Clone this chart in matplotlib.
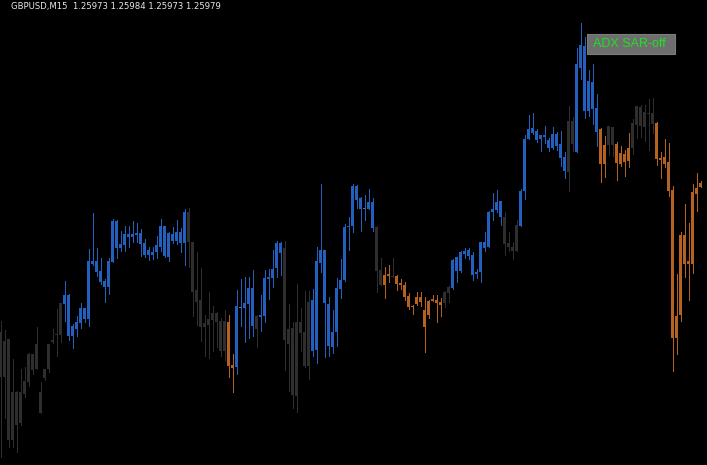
import matplotlib
matplotlib.use("Agg")
import matplotlib.pyplot as plt
from matplotlib.patches import Rectangle
import numpy as np

# ---------------- data (prices in chart points above BASE) ----------------
SYMBOL = "GBPUSD,M15"
LAST_OHLC = ["1.25973", "1.25984", "1.25973", "1.25979"]
INDICATOR_LABEL = "ADX SAR-off"

open_pts = [133, 88, 126, 25, 73, 42, 71, 83, 111, 96, 73, 87, 96, 123, 130, 130,
            161, 170, 129, 136, 142, 157, 146, 204, 204, 194, 184, 178, 203, 244,
            217, 220, 231, 228, 232, 232, 222, 210, 213, 213, 218, 239, 208, 231,
            224, 233, 222, 253, 223, 175, 165, 138, 140, 145, 152, 144, 114, 143,
            100, 98, 158, 157, 161, 177, 136, 148, 149, 186, 187, 197, 222, 217,
            121, 137, 69, 143, 133, 99, 165, 115, 202, 215, 161, 118, 133, 176,
            185, 238, 239, 279, 267, 256, 256, 263, 238, 195, 180, 191, 189, 189,
            182, 180, 169, 158, 161, 168, 155, 150, 164, 165, 163, 162, 172, 177,
            208, 194, 214, 209, 210, 191, 193, 223, 218, 253, 255, 264, 248, 222,
            218, 214, 239, 274, 326, 337, 334, 326, 330, 325, 317, 331, 321, 308,
            293, 344, 313, 397, 419, 354, 383, 357, 336, 301, 320, 338, 321, 301,
            311, 304, 317, 340, 358, 338, 352, 352, 342, 307, 308, 303, 275, 127,
            150, 230, 201, 201, 271, 278]
high_pts = [144, 135, 126, 106, 74, 96, 98, 112, 111, 138, 83, 96, 121, 136, 156, 162,
            184, 171, 141, 149, 162, 157, 216, 252, 217, 207, 186, 207, 246, 245,
            234, 239, 239, 244, 242, 236, 226, 218, 218, 229, 246, 239, 233, 238,
            245, 237, 256, 257, 223, 213, 197, 150, 173, 159, 153, 147, 155, 150,
            111, 175, 186, 188, 188, 195, 150, 170, 195, 196, 215, 224, 223, 224,
            161, 143, 181, 157, 174, 174, 176, 218, 281, 215, 168, 155, 187, 206,
            241, 248, 281, 280, 268, 270, 276, 267, 239, 207, 198, 200, 207, 190,
            186, 183, 172, 160, 173, 173, 168, 165, 170, 170, 167, 174, 179, 206,
            208, 214, 217, 217, 213, 196, 223, 233, 254, 272, 275, 264, 253, 233,
            223, 245, 276, 330, 350, 352, 336, 330, 339, 327, 338, 333, 334, 313,
            359, 348, 417, 442, 428, 395, 401, 371, 337, 329, 339, 338, 323, 319,
            315, 332, 346, 359, 360, 360, 366, 367, 343, 313, 326, 322, 279, 191,
            233, 261, 242, 281, 292, 284]
low_pts = [8, 47, 18, 18, 13, 40, 68, 79, 91, 96, 52, 85, 93, 122, 109, 123,
           144, 125, 117, 129, 137, 143, 139, 200, 189, 181, 163, 171, 203, 207,
           214, 214, 218, 223, 223, 209, 208, 205, 206, 207, 214, 208, 204, 222,
           221, 213, 200, 198, 149, 140, 124, 109, 107, 114, 118, 109, 105, 88,
           73, 91, 139, 123, 127, 129, 118, 134, 143, 166, 178, 188, 190, 95,
           74, 57, 53, 114, 98, 86, 109, 102, 193, 108, 109, 112, 119, 167,
           184, 215, 233, 257, 234, 245, 256, 234, 173, 180, 167, 183, 188, 175,
           176, 165, 156, 151, 160, 159, 113, 147, 164, 143, 149, 158, 163, 176,
           183, 193, 207, 206, 185, 187, 183, 214, 218, 245, 253, 240, 210, 214,
           206, 214, 239, 266, 326, 331, 323, 314, 322, 314, 316, 315, 299, 287,
           274, 314, 313, 386, 347, 349, 341, 319, 283, 288, 310, 309, 285, 299,
           289, 298, 311, 327, 328, 324, 315, 332, 300, 287, 298, 269, 94, 111,
           144, 188, 165, 192, 254, 278]
close_pts = [88, 124, 25, 73, 40, 73, 84, 111, 95, 121, 52, 96, 121, 125, 131, 162,
             170, 129, 139, 143, 157, 146, 204, 201, 193, 183, 178, 204, 244, 217,
             221, 231, 228, 231, 230, 221, 210, 215, 210, 220, 239, 209, 232, 224,
             233, 222, 253, 223, 173, 163, 138, 142, 146, 152, 143, 114, 144, 99,
             97, 159, 157, 162, 177, 139, 149, 150, 187, 188, 196, 222, 212, 125,
             136, 70, 143, 132, 99, 163, 114, 204, 215, 162, 119, 133, 177, 185,
             238, 239, 279, 265, 256, 257, 263, 237, 194, 180, 190, 189, 188, 181,
             180, 168, 158, 159, 168, 163, 138, 164, 166, 162, 160, 173, 178, 205,
             194, 213, 211, 215, 190, 193, 223, 217, 253, 256, 263, 248, 221, 218,
             214, 240, 274, 326, 336, 332, 325, 330, 328, 317, 331, 319, 307, 294,
             344, 321, 401, 420, 354, 384, 356, 333, 301, 320, 339, 320, 302, 312,
             303, 317, 342, 359, 339, 353, 351, 341, 306, 305, 301, 274, 127, 149,
             230, 201, 204, 273, 277, 282]
# indicator state per bar: g = neutral, b = up trend, o = down trend
state = ("g" * 16 + "b" * 31 + "g" * 10 + "o" * 2 + "b" * 5 + "g" + "b" * 6 +
         "g" * 7 + "b" * 16 + "g" * 2 + "o" * 2 + "g" + "o" * 12 + "g" * 2 +
         "b" * 13 + "g" * 4 + "b" * 12 + "g" * 2 + "b" * 6 + "o" * 2 + "g" * 2 +
         "o" * 4 + "g" * 6 + "o" * 12)
# doji bars whose body dash is drawn in the down colour
doji_dash_bars = [60, 91]

POINT = 0.0000183
BASE = 1.25979 - close_pts[-1] * POINT

# ---------------- styling ----------------
STATE_COLORS = {"g": "#2e2e2e", "b": "#2360bd", "o": "#b5611f"}
W, H, DPI = 707, 465, 100

fig = plt.figure(figsize=(W / DPI, H / DPI), dpi=DPI, facecolor="black")
ax = fig.add_axes([0, 0, 1, 1])
ax.set_facecolor("black")
ax.set_axis_off()

o = BASE + np.array(open_pts) * POINT
h = BASE + np.array(high_pts) * POINT
l = BASE + np.array(low_pts) * POINT
c = BASE + np.array(close_pts) * POINT
x = np.arange(len(o))
cols = [STATE_COLORS[s] for s in state]
body_cols = list(cols)
for i in doji_dash_bars:
    body_cols[i] = STATE_COLORS["o"]

ax.vlines(x, l, h, colors=cols, linewidth=72 / DPI, antialiased=False)
bottom = np.minimum(o, c)
height = np.maximum(np.abs(c - o), POINT)
ax.bar(x, height, bottom=bottom, width=0.8, color=body_cols, linewidth=0,
       antialiased=False)

ax.set_xlim(-0.125, W / 4 - 0.125)
ax.set_ylim(BASE, BASE + H * POINT)

fig.text(11 / W, 1 - 6 / H, SYMBOL + "  " + " ".join(LAST_OHLC),
         color="#e8e8e8", fontsize=6.1, family="DejaVu Sans",
         ha="left", va="center")

fig.patches.append(Rectangle((587 / W, 1 - 54 / H), 88 / W, 20 / H,
                             transform=fig.transFigure, facecolor="#6e6e6e",
                             edgecolor="#7c7c7c", linewidth=0.8, zorder=5))
fig.text(593 / W, 1 - 44 / H, INDICATOR_LABEL, color="#22e022", fontsize=9,
         family="Liberation Sans", ha="left", va="center", zorder=6)

fig.savefig("out.png", dpi=DPI, facecolor="black")
